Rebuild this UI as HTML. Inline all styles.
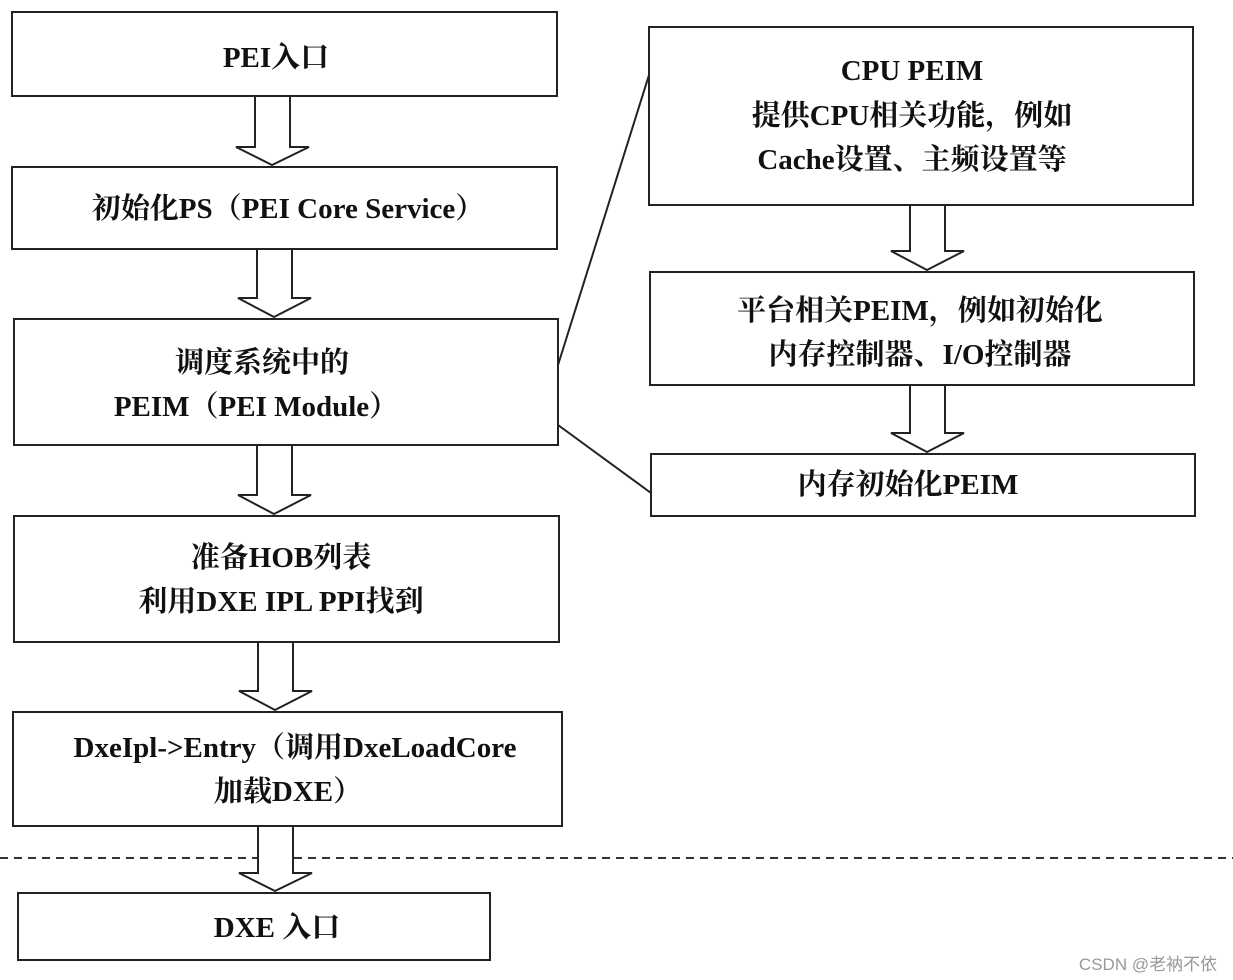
<!DOCTYPE html>
<html><head><meta charset="utf-8"><style>
html,body{margin:0;padding:0;background:#fff;}
svg{display:block;}
text{font-family:"Liberation Serif","Noto Serif CJK SC",serif;font-size:29px;fill:#111;text-anchor:middle;font-weight:bold;}
</style></head><body>
<svg width="1233" height="980" viewBox="0 0 1233 980" xmlns="http://www.w3.org/2000/svg">
<line x1="0" y1="858" x2="1233" y2="858" stroke="#333" stroke-width="2" stroke-dasharray="8,6"/>
<g fill="#fff" stroke="#222" stroke-width="2">
<rect x="12" y="12" width="545" height="84"/>
<rect x="12" y="167" width="545" height="82"/>
<rect x="14" y="319" width="544" height="126"/>
<rect x="14" y="516" width="545" height="126"/>
<rect x="13" y="712" width="549" height="114"/>
<rect x="18" y="893" width="472" height="67"/>
<rect x="649" y="27" width="544" height="178"/>
<rect x="650" y="272" width="544" height="113"/>
<rect x="651" y="454" width="544" height="62"/>
</g>
<g fill="#fff" stroke="#222" stroke-width="2" stroke-linejoin="miter">
<polygon points="255,96 290,96 290,147 309,147 272,165 236,147 255,147"/>
<polygon points="257,249 292,249 292,298 311,298 274,317 238,298 257,298"/>
<polygon points="257,445 292,445 292,495 311,495 274,514 238,495 257,495"/>
<polygon points="258,642 293,642 293,691 312,691 275,710 239,691 258,691"/>
<polygon points="258,826 293,826 293,873 312,873 275,891 239,873 258,873"/>
<polygon points="910,205 945,205 945,251 964,251 927,270 891,251 910,251"/>
<polygon points="910,385 945,385 945,433 964,433 927,452 891,433 910,433"/>
</g>
<line x1="558" y1="365" x2="649" y2="75" stroke="#222" stroke-width="2"/>
<line x1="558" y1="425" x2="651" y2="493" stroke="#222" stroke-width="2"/>
<text x="276" y="67">PEI入口</text>
<text x="288" y="218">初始化PS（PEI Core Service）</text>
<text x="262" y="372">调度系统中的</text>
<text x="256" y="416">PEIM（PEI Module）</text>
<text x="281" y="567">准备HOB列表</text>
<text x="281" y="611">利用DXE IPL PPI找到</text>
<text x="295" y="757">DxeIpl-&gt;Entry（调用DxeLoadCore</text>
<text x="288" y="801">加载DXE）</text>
<text x="277" y="937">DXE 入口</text>
<text x="912" y="80">CPU PEIM</text>
<text x="912" y="125">提供CPU相关功能，例如</text>
<text x="912" y="169">Cache设置、主频设置等</text>
<text x="920" y="320">平台相关PEIM，例如初始化</text>
<text x="920" y="364">内存控制器、I/O控制器</text>
<text x="908" y="494">内存初始化PEIM</text>
<text x="1148" y="970" style="font-family:'Liberation Sans','Noto Sans CJK SC',sans-serif;font-size:17px;fill:#999;font-weight:normal">CSDN @老衲不依</text>
</svg>
</body></html>
